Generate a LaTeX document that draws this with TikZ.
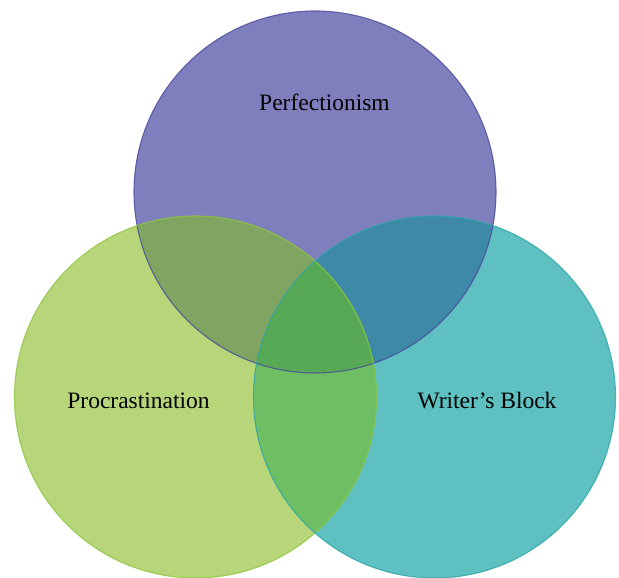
\documentclass[tikz,border=0pt]{standalone}
\usepackage{fontspec}
\setmainfont{Liberation Serif}
\definecolor{cT}{HTML}{7F7FBD}
\definecolor{cL}{HTML}{B7D67A}
\definecolor{cR}{HTML}{5EC0C0}
\definecolor{cTL}{HTML}{80A461}
\definecolor{cTR}{HTML}{3E88A8}
\definecolor{cLR}{HTML}{6EBF63}
\definecolor{cTLR}{HTML}{58A955}
\definecolor{bT}{HTML}{4A4A9C}
\definecolor{bL}{HTML}{8CC63F}
\definecolor{bR}{HTML}{2DA6A6}
\tikzset{
  lbl/.style={anchor=base, font=\fontsize{23.5}{28}\selectfont, text=black, inner sep=0pt},
  rim/.style={line width=1.1pt}
}
\begin{document}
\begin{tikzpicture}[x=1pt,y=1pt]
\useasboundingbox (0,0) rectangle (619,578);
\coordinate (ct) at (315,386);
\coordinate (cl) at (195.5,181);
\coordinate (cr) at (434.5,181);
\def\rad{181}
% base fills
\fill[cT] (ct) circle (\rad);
\fill[cL] (cl) circle (\rad);
\fill[cR] (cr) circle (\rad);
% pairwise overlaps
\begin{scope}
  \clip (ct) circle (\rad);
  \fill[cTL] (cl) circle (\rad);
  \fill[cTR] (cr) circle (\rad);
\end{scope}
\begin{scope}
  \clip (cl) circle (\rad);
  \fill[cLR] (cr) circle (\rad);
  \clip (ct) circle (\rad);
  \fill[cTLR] (cr) circle (\rad);
\end{scope}
% rims
\draw[rim, bT, opacity=0.8] (ct) circle (\rad);
\draw[rim, bL, opacity=0.8] (cl) circle (\rad);
\draw[rim, bR, opacity=0.8] (cr) circle (\rad);
% labels
\node[lbl] (perf) at (324.5,467) {Perfectionism};
\node[lbl] (proc) at (138.5,169) {Procrastination};
\node[lbl] (wb) at (487,169) {Writer’s Block};
\end{tikzpicture}
\end{document}
